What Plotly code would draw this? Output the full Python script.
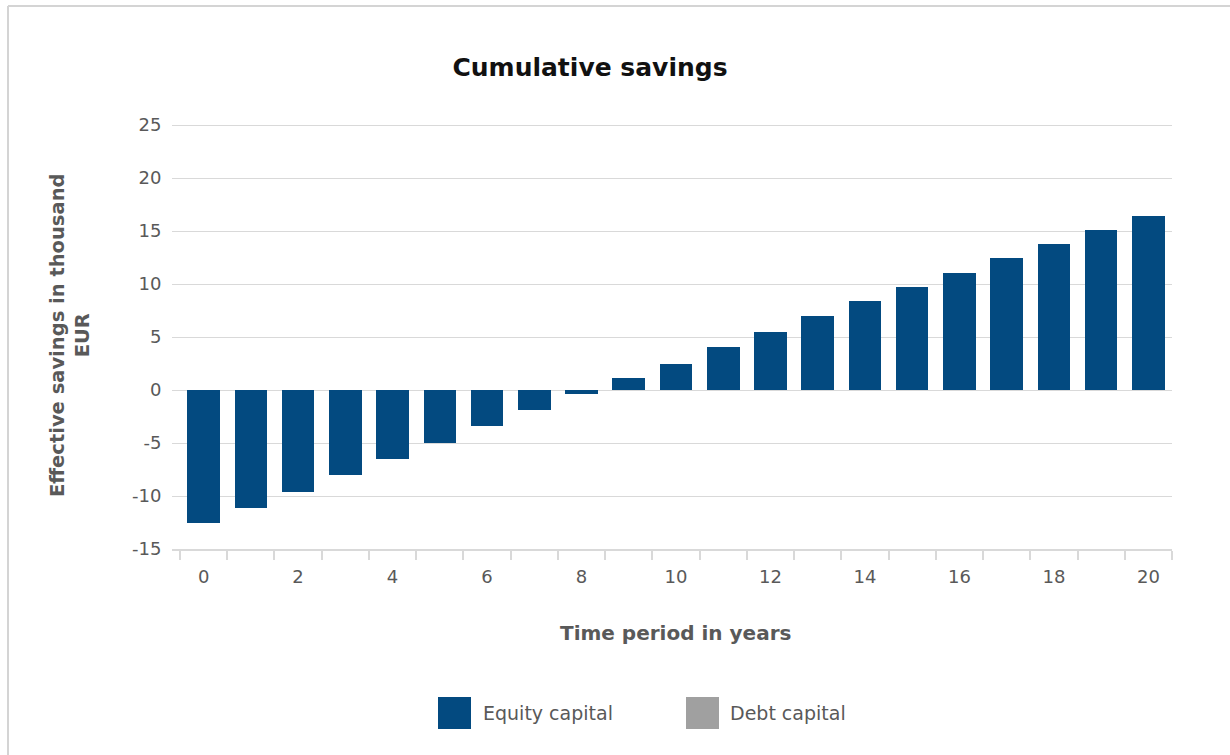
import plotly.graph_objects as go

years = list(range(0, 21))
equity_capital = [-12.5, -11.1, -9.6, -8.0, -6.5, -5.0, -3.4, -1.9, -0.35, 1.15,
                  2.5, 4.1, 5.5, 7.0, 8.4, 9.7, 11.0, 12.45, 13.8, 15.1, 16.4]
debt_capital = []  # series is listed in the legend but shows no bars in the reference
y_ticks = [-15, -10, -5, 0, 5, 10, 15, 20, 25]
x_ticks = [0, 2, 4, 6, 8, 10, 12, 14, 16, 18, 20]

BLUE = "#034a80"
GRAY = "#a0a0a0"
TXT = "#595959"
GRID = "#d9d9d9"
FONT = "DejaVu Sans"

fig = go.Figure()
fig.add_trace(go.Bar(x=years, y=equity_capital, name="Equity capital",
                     marker=dict(color=BLUE, line=dict(width=0)), width=0.69,
                     showlegend=False))
fig.add_trace(go.Bar(x=years[:len(debt_capital)], y=debt_capital, name="Debt capital",
                     marker=dict(color=GRAY, line=dict(width=0)), width=0.69,
                     showlegend=False))

W, H = 1230, 755
L, R, T, B = 172, 58, 123, 206
pw, ph = W - L - R, H - T - B

def px(x):
    return (x - L) / pw

def py(y):
    return (H - B - y) / ph

shapes = [
    # outer frame
    dict(type="line", xref="paper", yref="paper", x0=px(8), x1=px(1300), y0=py(6), y1=py(6),
         line=dict(color="#d4d4d4", width=2)),
    dict(type="line", xref="paper", yref="paper", x0=px(8), x1=px(8), y0=py(6), y1=py(800),
         line=dict(color="#d4d4d4", width=2)),
    # legend swatches
    dict(type="rect", xref="paper", yref="paper", x0=px(438), x1=px(471), y0=py(697), y1=py(729),
         fillcolor=BLUE, line=dict(width=0)),
    dict(type="rect", xref="paper", yref="paper", x0=px(686), x1=px(719), y0=py(697), y1=py(729),
         fillcolor=GRAY, line=dict(width=0)),
]

annotations = [
    dict(text="Time period in years", xref="paper", yref="paper", x=px(675), y=py(633),
         xanchor="center", yanchor="middle", showarrow=False,
         font=dict(family=FONT, size=20, color=TXT, weight="bold")),
    dict(text="Effective savings in thousand<br>EUR", xref="paper", yref="paper",
         x=px(70), y=py(336), xanchor="center", yanchor="middle", showarrow=False,
         textangle=-90, font=dict(family=FONT, size=19.5, color=TXT, weight="bold")),
    dict(text="Equity capital", xref="paper", yref="paper", x=px(481), y=py(713),
         xanchor="left", yanchor="middle", showarrow=False,
         font=dict(family=FONT, size=19, color=TXT)),
    dict(text="Debt capital", xref="paper", yref="paper", x=px(728), y=py(713),
         xanchor="left", yanchor="middle", showarrow=False,
         font=dict(family=FONT, size=19, color=TXT)),
]

fig.update_layout(
    width=W, height=H,
    margin=dict(l=L, r=R, t=T, b=B, autoexpand=False),
    paper_bgcolor="white", plot_bgcolor="white",
    barmode="overlay",
    title=dict(text="<b>Cumulative savings</b>", x=590 / W, y=1 - 67 / H,
               xanchor="center", yanchor="middle", xref="container",
               font=dict(family=FONT, size=25, color="#111111")),
    font=dict(family=FONT, size=18, color=TXT),
    shapes=shapes,
    annotations=annotations,
    showlegend=False,
    bargap=0,
)

fig.update_xaxes(
    range=[-0.669, 20.5], tickmode="array", tickvals=x_ticks,
    ticktext=[str(v) for v in x_ticks],
    ticks="outside", ticklen=10, tickcolor="rgba(0,0,0,0)",
    showgrid=False, zeroline=False, showline=True, linecolor=GRID, linewidth=2,
    tickfont=dict(family=FONT, size=18, color=TXT),
    minor=dict(tickmode="linear", tick0=-0.5, dtick=1, ticks="outside", ticklen=9,
               tickcolor=GRID, tickwidth=2, showgrid=False),
)
fig.update_yaxes(
    range=[-15, 25.2], tickmode="array", tickvals=y_ticks,
    ticktext=[str(v) for v in y_ticks],
    ticks="outside", ticklen=6, tickcolor="rgba(0,0,0,0)",
    showgrid=True, gridcolor=GRID, gridwidth=1, zeroline=False, showline=False,
    tickfont=dict(family=FONT, size=18, color=TXT),
)

fig.write_html("out.html")
